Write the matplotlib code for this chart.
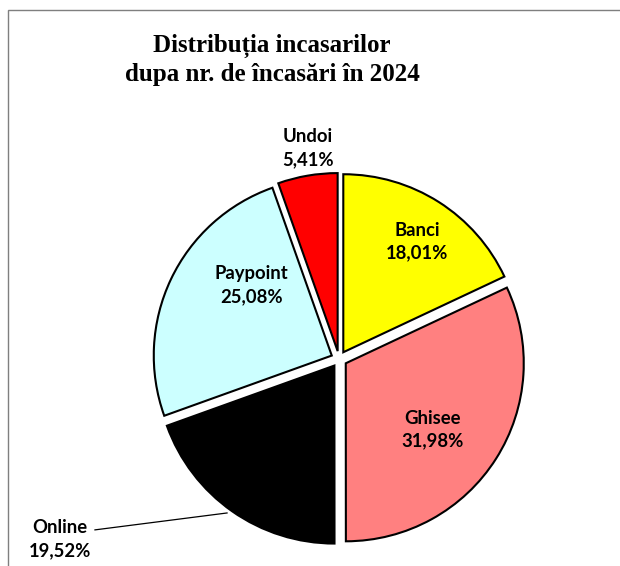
import matplotlib.pyplot as plt
from matplotlib.patches import Rectangle

labels = ["Banci", "Ghisee", "Online", "Paypoint", "Undoi"]
values = [18.01, 31.98, 19.52, 25.08, 5.41]
colors = ["#FFFF00", "#FF8080", "#000000", "#CCFFFF", "#FF0000"]

# where each label sits (data units, radius = 1)
label_pos = [(0.437, 0.659), (0.528, -0.397), (-1.567, -1.011), (-0.494, 0.416), (-0.174, 1.185)]

fig = plt.figure(figsize=(6.2, 5.66), dpi=100)

# grey chart-area frame, cropped at right and bottom
fig.patches.append(Rectangle((8 / 620, -0.2), 1.2, 1.2 - 10 / 566,
                             transform=fig.transFigure, fill=False,
                             edgecolor="#7f7f7f", linewidth=1.0))

ax = fig.add_axes([139 / 620, 7 / 566, 400 / 620, 400 / 566])
ax.pie(values, colors=colors, startangle=90, counterclock=False,
       explode=[0.045] * len(values),
       wedgeprops=dict(edgecolor="black", linewidth=1.5))
ax.set_xlim(-200 / 178, 200 / 178)
ax.set_ylim(-200 / 178, 200 / 178)
ax.set_aspect("equal")
ax.axis("off")

for name, v, (x, y) in zip(labels, values, label_pos):
    txt = f"{name}\n{v:.2f}%".replace(".", ",")
    ax.text(x, y, txt, ha="center", va="center", fontsize=13.3,
            fontweight="bold", family="Lato", linespacing=1.4,
            color="black", clip_on=False)

# leader line for Online
ax.plot([-1.371, -0.629], [-0.96, -0.865], color="black", linewidth=0.9,
        clip_on=False)

fig.text(272 / 620, 1 - 60 / 566,
         "Distribuția incasarilor\ndupa nr. de încasări în 2024",
         ha="center", va="center", fontsize=18, fontweight="bold",
         family="Liberation Serif", linespacing=1.3)

fig.savefig("out.png", dpi=100)
